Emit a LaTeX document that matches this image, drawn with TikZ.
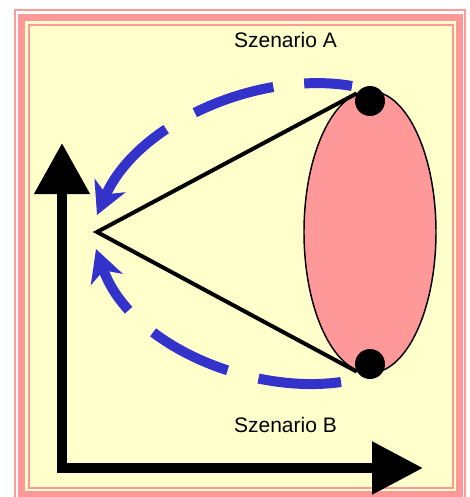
\documentclass[tikz,border=0pt]{standalone}
\usepackage{fontspec}
\setmainfont{Liberation Sans}
\usetikzlibrary{arrows.meta,shapes.geometric}
\definecolor{rosa}{HTML}{FF9999}
\definecolor{gelb}{HTML}{FFFFCC}
\definecolor{blau}{HTML}{3333CC}
\begin{document}
\begin{tikzpicture}[x=0.75pt,y=-0.75pt, every node/.style={font=\fontsize{15.75}{18}\selectfont},
  weg/.style={blau,line width=7.5pt,-{Stealth[length=24pt,width=25pt,inset=7pt]}},
  punkt/.style={circle,fill=black,minimum size=22.5pt,inner sep=0pt}]
\useasboundingbox (0,0) rectangle (470,497);
% Rahmen
\fill[gelb] (21.5,17.5) rectangle (459,494.5);
\draw[rosa,line width=1.5pt] (15,10) rectangle (465,502);
\draw[rosa,line width=5.25pt] (21.5,17.5) rectangle (459,494.5);
\draw[rosa,line width=1.5pt] (29,24.5) rectangle (452.5,488);
% Achsen
\draw[line width=7.5pt,miter limit=4,{Triangle[length=38.25pt,width=40pt]}-{Triangle[length=38.25pt,width=38pt]}]
  (62,143) -- (62,468) -- (423,468);
% Kegel
\node[ellipse,draw,fill=rosa,line width=1.1pt,minimum width=99pt,minimum height=211.5pt,inner sep=0pt] (blob) at (370,232) {};
\node[punkt] (topdot) at (370,101) {};
\node[punkt] (botdot) at (370,364) {};
\coordinate (apex) at (97,232);
\draw[line width=3pt] (topdot.150) -- (apex) -- (botdot.210);
% Szenarien
\coordinate (startA) at (352,86);
\coordinate (tipA) at (97,215);
\coordinate (startB) at (341,382);
\coordinate (tipB) at (96,249);
\draw[weg,dash pattern=on 36pt off 23.25pt on 62.25pt off 24.75pt on 150pt off 1pt]
  (startA) .. controls (260,70) and (138,122) .. (tipA);
\draw[weg,dash pattern=on 62.25pt off 24pt on 63pt off 24.75pt on 150pt off 1pt]
  (startB) .. controls (250,395) and (130,345) .. (tipB);
\node[anchor=base] (labA) at (285.5,47) {Szenario A};
\node[anchor=base] (labB) at (285.5,432) {Szenario B};
\end{tikzpicture}
\end{document}
